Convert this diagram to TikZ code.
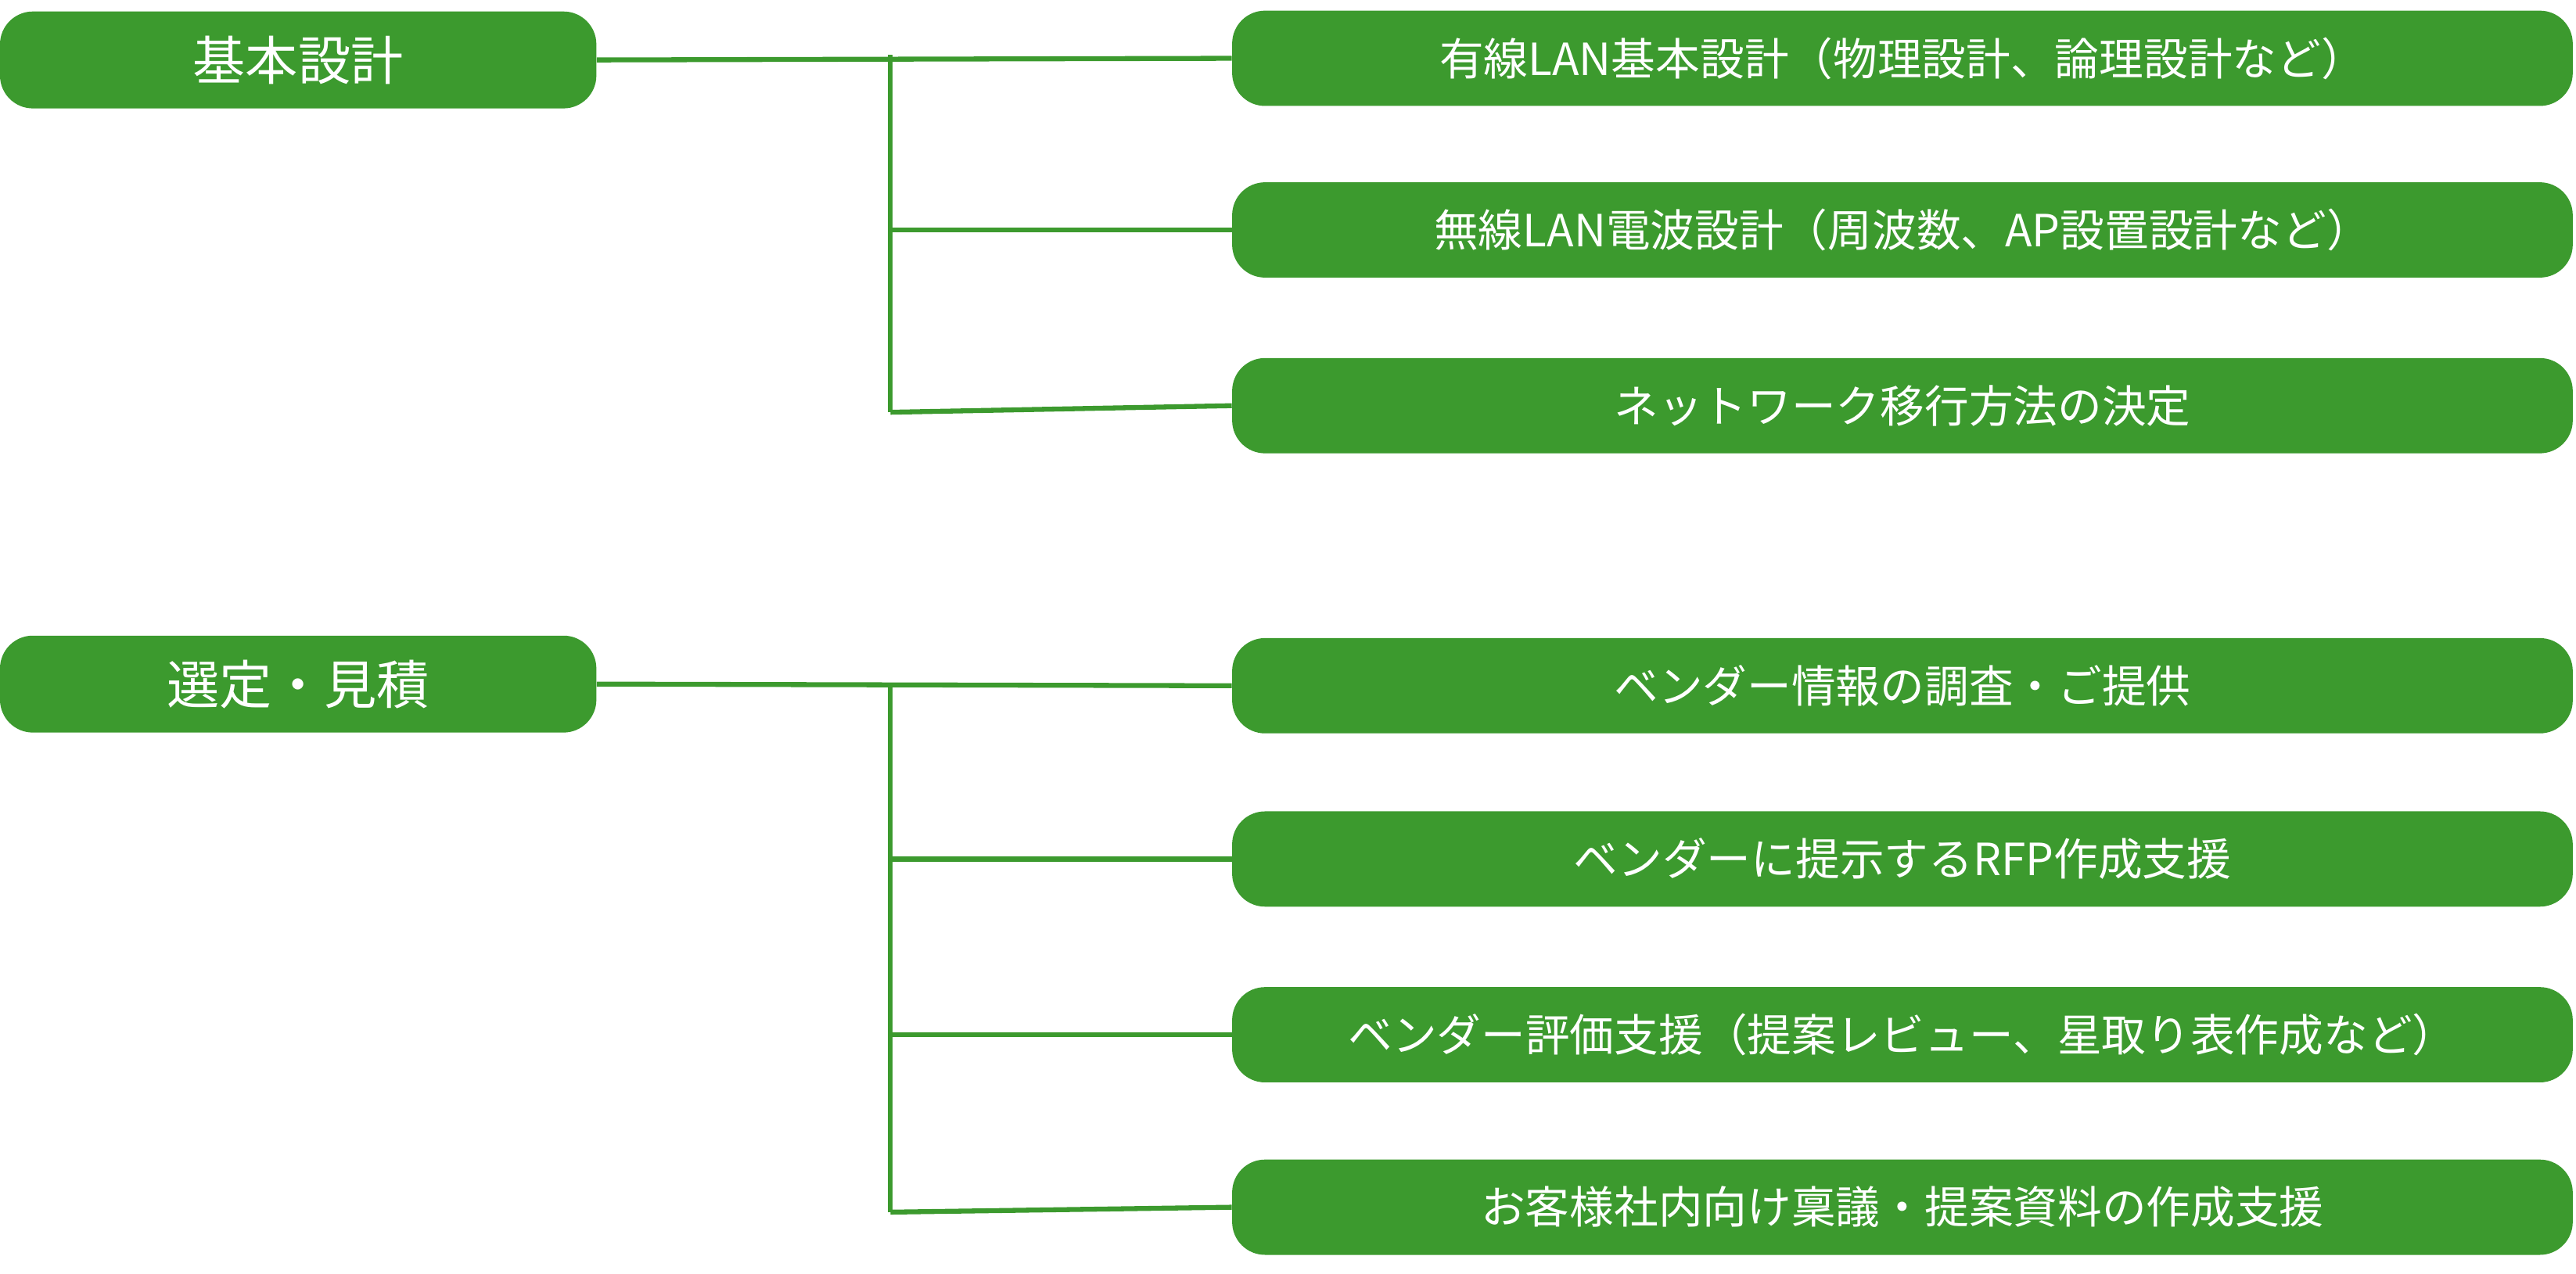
\documentclass[tikz,border=0pt]{standalone}
\usepackage{fontspec}
\newfontfamily\cjk{Noto Sans CJK JP}
\definecolor{g}{HTML}{3C9A2E}
\begin{document}
\begin{tikzpicture}[x=1pt,y=-1pt,
 box/.style={fill=g,rounded corners=20pt,inner sep=0pt,text=white,font=\cjk\fontsize{27}{30}\selectfont},
 ln/.style={draw=g,line width=3pt}]
\useasboundingbox (0,0) rectangle (1568,775.2);
\node[box,minimum width=363pt,minimum height=59pt,font=\cjk\fontsize{32}{36}\selectfont] (a) at (181.5,36.5) {基本設計};
\node[box,minimum width=363pt,minimum height=59pt,font=\cjk\fontsize{32}{36}\selectfont] (b) at (181.5,416.5) {選定・見積};
\foreach \n/\y/\t in {a1/35.5/有線LAN基本設計（物理設計、論理設計など）,a2/140/無線LAN電波設計（周波数、AP設置設計など）,a3/247/ネットワーク移行方法の決定,b1/417.5/ベンダー情報の調査・ご提供,b2/523/ベンダーに提示するRFP作成支援,b3/630/ベンダー評価支援（提案レビュー、星取り表作成など）,b4/735/お客様社内向け稟議・提案資料の作成支援}
 \node[box,minimum width=816pt,minimum height=58pt] (\n) at (1158,\y) {\t};
\coordinate (ja) at (542,33.5);
\coordinate (jae) at (542,251);
\coordinate (jb) at (542,417);
\coordinate (jbe) at (542,738);
\draw[ln] (a.east) -- (a1.west);
\draw[ln] (ja) -- (jae);
\draw[ln] (ja|-a2) -- (a2.west);
\draw[ln] (jae) -- (a3.west);
\draw[ln] (b.east) -- (b1.west);
\draw[ln] (jb) -- (jbe);
\draw[ln] (jb|-b2) -- (b2.west);
\draw[ln] (jb|-b3) -- (b3.west);
\draw[ln] (jbe) -- (b4.west);
\end{tikzpicture}
\end{document}
